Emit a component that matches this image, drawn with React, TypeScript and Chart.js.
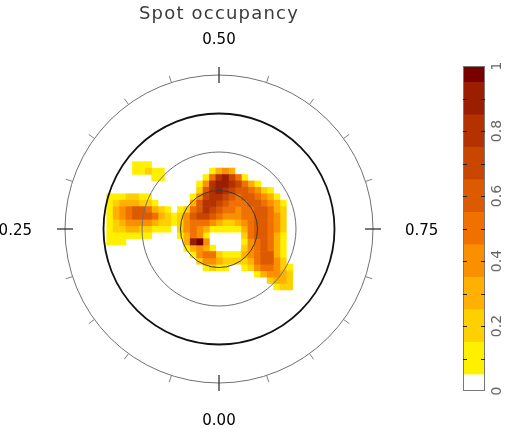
import React, { useEffect, useRef } from "react";
import { Chart, registerables } from "chart.js";

Chart.register(...registerables);

const chartTitle = "Spot occupancy";

// Grid of the occupancy map in colatitude degrees (x to the right, y upwards)
const gridX = [-85, -80, -75, -70, -65, -60, -55, -50, -45, -40, -35, -30, -25, -20, -15, -10, -5, 0, 5, 10, 15, 20, 25, 30, 35, 40, 45, 50, 55, 60];
const gridY = [50, 45, 40, 35, 30, 25, 20, 15, 10, 5, 0, -5, -10, -15, -20, -25, -30, -35, -40, -45];

// Occupancy per cell, one hex digit = tenths (0 = empty, a = 1.0)
const occupancyRows = [
  "000011100000000000000000000000",
  "000011211000000013430000000000",
  "000000011000000158975100000000",
  "000000000000001489987531000000",
  "000000000000002689876654210000",
  "111221100000014788765665431000",
  "123332210000036887655566543100",
  "134566532101256876554556653200",
  "134566653212467765444556654200",
  "123444432212455543223456654200",
  "122332211102454311111356654200",
  "111111100001354100000256653100",
  "11100000000039a400000145653100",
  "000000000000134310000245653100",
  "000000000000014552111345663100",
  "000000000000002443222235664200",
  "000000000000000121100124554210",
  "000000000000000000000001344320",
  "000000000000000000000000023320",
  "000000000000000000000000001220",
];

const circleColatitudes = [30, 60, 90, 120];
const phaseTicks = [0, 0.05, 0.1, 0.15, 0.2, 0.25, 0.3, 0.35, 0.4, 0.45, 0.5, 0.55, 0.6, 0.65, 0.7, 0.75, 0.8, 0.85, 0.9, 0.95];
const majorPhases = [0, 0.25, 0.5, 0.75];
const phaseLabels = ["0.00", "0.25", "0.50", "0.75"];

const levelBounds = [0, 0.05, 0.15, 0.25, 0.35, 0.45, 0.55, 0.65, 0.75, 0.85, 0.95, 1];
const levelColors = ["#ffffff", "#fff000", "#ffd000", "#ffb000", "#fa9000", "#f07000", "#dc5a00", "#c84600", "#b43200", "#9c1e00", "#7a0000"];
const colorbarMinorTicks = [0.1, 0.2, 0.3, 0.4, 0.5, 0.6, 0.7, 0.8, 0.9];
const colorbarLabelValues = [0, 0.2, 0.4, 0.6, 0.8, 1];
const colorbarLabels = ["0", "0.2", "0.4", "0.6", "0.8", "1"];

const W = 519;
const H = 428;

function colorFor(v: number | undefined) {
  if (v === undefined) return "#ffffff";
  for (let k = 0; k < levelColors.length; k++) {
    if (v < levelBounds[k + 1] - 1e-9) return levelColors[k];
  }
  return levelColors[levelColors.length - 1];
}

const circleStyles = [
  { color: "#3a3a3a", width: 1 },
  { color: "#707070", width: 1 },
  { color: "#111111", width: 1.8 },
  { color: "#707070", width: 1 },
];

const polarPlugin = {
  id: "polarFrame",
  afterDatasetsDraw(chart: any) {
    const { ctx } = chart;
    const xs = chart.scales.x;
    const ys = chart.scales.y;
    const cx = xs.getPixelForValue(0);
    const cy = ys.getPixelForValue(0);
    const rad = (c: number) => xs.getPixelForValue(c) - cx;
    ctx.save();
    circleColatitudes.forEach((c, i) => {
      ctx.beginPath();
      ctx.arc(cx, cy, rad(c), 0, Math.PI * 2);
      ctx.strokeStyle = circleStyles[i].color;
      ctx.lineWidth = circleStyles[i].width;
      ctx.stroke();
    });
    const R = rad(circleColatitudes[circleColatitudes.length - 1]);
    phaseTicks.forEach((p) => {
      const major = majorPhases.some((m) => Math.abs(m - p) < 1e-6);
      const dx = -Math.sin(2 * Math.PI * p);
      const dy = Math.cos(2 * Math.PI * p);
      const r0 = major ? R - 8 : R;
      const r1 = major ? R + 8 : R + 7;
      ctx.beginPath();
      ctx.moveTo(cx + dx * r0, cy + dy * r0);
      ctx.lineTo(cx + dx * r1, cy + dy * r1);
      ctx.strokeStyle = major ? "#222222" : "#808080";
      ctx.lineWidth = major ? 1.2 : 1;
      ctx.stroke();
    });
    ctx.fillStyle = "#000000";
    ctx.font = "15px 'DejaVu Sans', sans-serif";
    ctx.textBaseline = "alphabetic";
    ctx.textAlign = "center";
    ctx.fillText(phaseLabels[0], cx, cy + R + 42);
    ctx.fillText(phaseLabels[2], cx, cy - R - 31);
    ctx.textAlign = "right";
    ctx.fillText(phaseLabels[1], cx - R - 33, cy + 5.5);
    ctx.textAlign = "left";
    ctx.fillText(phaseLabels[3], cx + R + 32, cy + 5.5);
    ctx.fillStyle = "#3c3c3c";
    ctx.font = "18px 'DejaVu Sans', sans-serif";
    try {
      (ctx as any).letterSpacing = "1.2px";
    } catch (e) {}
    ctx.textAlign = "center";
    ctx.fillText(chartTitle, cx, 19);
    try {
      (ctx as any).letterSpacing = "0px";
    } catch (e) {}
    ctx.restore();
  },
};

const colorbarPlugin = {
  id: "colorbarFrame",
  afterDatasetsDraw(chart: any) {
    const { ctx, chartArea } = chart;
    const ys = chart.scales.y;
    const { left, right, top, bottom } = chartArea;
    ctx.save();
    ctx.strokeStyle = "#777777";
    ctx.lineWidth = 1;
    ctx.strokeRect(left + 0.5, top + 0.5, right - left - 1, bottom - top - 1);
    ctx.strokeStyle = "#222222";
    colorbarMinorTicks.forEach((v) => {
      const py = Math.round(ys.getPixelForValue(v)) + 0.5;
      ctx.beginPath();
      ctx.moveTo(left, py);
      ctx.lineTo(left + 4, py);
      ctx.moveTo(right - 4, py);
      ctx.lineTo(right, py);
      ctx.stroke();
    });
    ctx.fillStyle = "#666666";
    ctx.font = "14px 'DejaVu Sans', sans-serif";
    ctx.textAlign = "center";
    ctx.textBaseline = "middle";
    colorbarLabelValues.forEach((v, i) => {
      const py = ys.getPixelForValue(v);
      ctx.save();
      ctx.translate(right + 12, py);
      ctx.rotate(-Math.PI / 2);
      ctx.fillText(colorbarLabels[i], 0, 0);
      ctx.restore();
    });
    ctx.restore();
  },
};

export default function App() {
  const mapRef = useRef<HTMLCanvasElement>(null);
  const barRef = useRef<HTMLCanvasElement>(null);

  useEffect(() => {
    const cells: { x: number; y: number; v: number }[] = [];
    occupancyRows.forEach((row, j) => {
      for (let i = 0; i < row.length; i++) {
        const level = parseInt(row[i], 16);
        if (level > 0) cells.push({ x: gridX[i], y: gridY[j], v: level / 10 });
      }
    });
    cells.sort((a, b) => a.v - b.v);
    const gridStep = gridX[1] - gridX[0];

    const mapChart = new Chart(mapRef.current as HTMLCanvasElement, {
      type: "scatter",
      data: {
        datasets: [
          {
            data: cells as any,
            pointStyle: "rect",
            pointRadius: (c: any) => {
              const s = c.chart.scales.x;
              return Math.abs(s.getPixelForValue(gridStep) - s.getPixelForValue(0)) * 0.77;
            },
            backgroundColor: (c: any) => colorFor(c.raw ? c.raw.v : undefined),
            borderWidth: 0,
          } as any,
        ],
      },
      options: {
        responsive: false,
        maintainAspectRatio: false,
        animation: false,
        events: [],
        layout: { padding: { left: 65, right: 146, top: 75, bottom: 45 } },
        scales: {
          x: { type: "linear", min: -120, max: 120, display: false },
          y: { type: "linear", min: -120, max: 120, display: false },
        },
        plugins: { legend: { display: false }, tooltip: { enabled: false } },
      },
      plugins: [polarPlugin],
    });

    const barChart = new Chart(barRef.current as HTMLCanvasElement, {
      type: "bar",
      data: {
        labels: ["occupancy"],
        datasets: levelColors.map((c, k) => ({
          data: [[levelBounds[k], levelBounds[k + 1]]] as any,
          backgroundColor: c,
          borderWidth: 0,
          grouped: false,
          barPercentage: 1,
          categoryPercentage: 1,
        })) as any,
      },
      options: {
        responsive: false,
        maintainAspectRatio: false,
        animation: false,
        events: [],
        layout: { padding: { left: 463, right: 34, top: 66, bottom: 37 } },
        scales: {
          x: { display: false, offset: true },
          y: { min: 0, max: 1, display: false },
        },
        plugins: { legend: { display: false }, tooltip: { enabled: false } },
      },
      plugins: [colorbarPlugin],
    });

    return () => {
      mapChart.destroy();
      barChart.destroy();
    };
  }, []);

  return (
    <div style={{ position: "absolute", left: 0, top: 0, width: W, height: H, background: "#ffffff" }}>
      <canvas ref={mapRef} width={W} height={H} style={{ position: "absolute", left: 0, top: 0, width: W, height: H }} />
      <canvas ref={barRef} width={W} height={H} style={{ position: "absolute", left: 0, top: 0, width: W, height: H }} />
    </div>
  );
}
